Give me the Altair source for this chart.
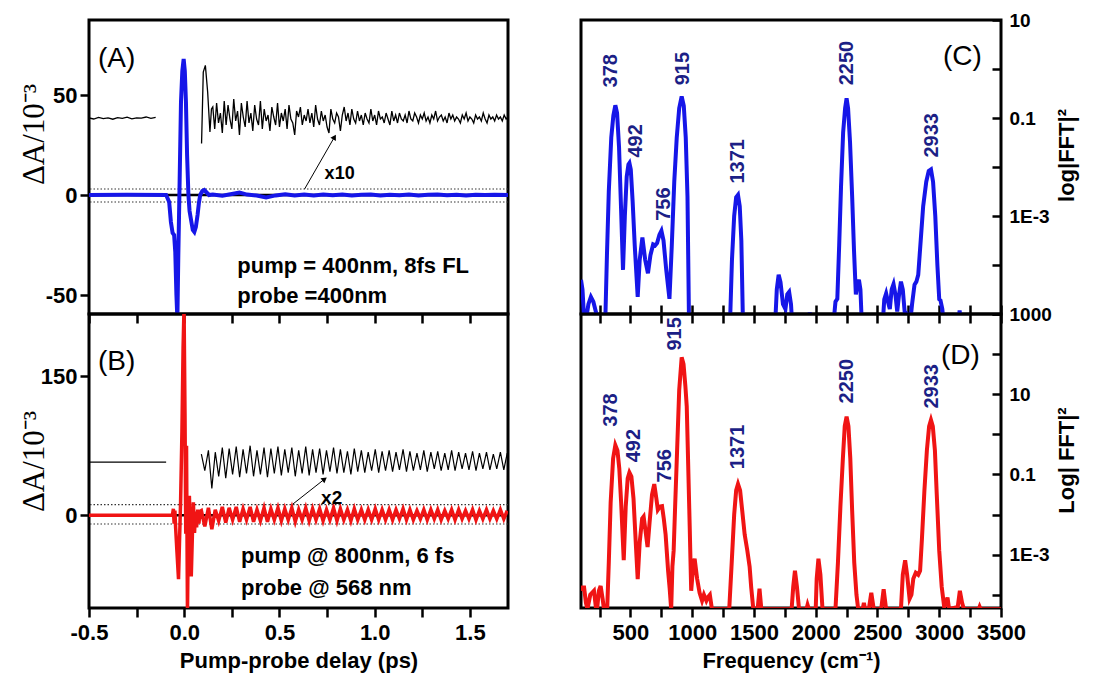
import altair as alt
import pandas as pd

# ---------------- data ----------------
# Panel A: pump 400 nm / probe 400 nm, delay (ps) vs dA (1e-3)
a_blue_t = [-0.5, -0.3, -0.095, -0.079, -0.070, -0.061, -0.053, -0.047, -0.041, -0.036,
            -0.031, -0.026, -0.017, -0.010, -0.003, 0.003, 0.009, 0.015, 0.022, 0.028,
            0.035, 0.045, 0.053, 0.061, 0.070, 0.077, 0.084, 0.095, 0.105, 0.115,
            0.13, 0.15, 0.2, 0.25, 0.29, 0.33, 0.38, 0.43, 0.48, 0.53,
            0.58, 0.63, 0.68, 0.73, 0.78, 0.83, 0.88, 0.93, 0.98, 1.03,
            1.08, 1.13, 1.18, 1.23, 1.28, 1.33, 1.38, 1.43, 1.48, 1.53,
            1.58, 1.63, 1.7]
a_blue_v = [0, 0.1, 0, -3.5, -13.5, -19, -20, -28.5, -50, -62,
            -30, -3.5, 46.5, 62, 68, 62, 46.5, 20, 0, -8,
            -12, -17.5, -18.5, -16, -10, -4, 0, 2, 2.5, 1.5,
            0, 0.3, -0.4, 0.5, 1.2, 0.2, -0.3, -1.2, -0.2, 0.4,
            -0.3, 0.2, -0.2, 0.3, -0.1, 0.2, -0.3, 0.1, 0.3, -0.2,
            0.1, -0.1, 0.2, -0.2, 0.1, 0.2, -0.1, 0.1, -0.2, 0.1,
            0.0, 0.1, 0.0]

a_x10_pre_t = [-0.5, -0.475, -0.45, -0.425, -0.4, -0.375, -0.35, -0.325, -0.3, -0.275,
               -0.25, -0.225, -0.2, -0.175, -0.15]
a_x10_pre_v = [38.5, 38.0, 38.8, 38.2, 38.6, 37.9, 38.7, 38.3, 38.9, 38.1,
               38.6, 38.4, 39.0, 38.3, 38.8]

a_x10_t = [0.091, 0.100, 0.111, 0.123, 0.135, 0.143,
           0.15, 0.16, 0.17, 0.18, 0.19, 0.20, 0.21, 0.22, 0.23, 0.24,
           0.25, 0.26, 0.27, 0.28, 0.29, 0.30, 0.31, 0.32, 0.33, 0.34,
           0.35, 0.36, 0.37, 0.38, 0.39, 0.40, 0.41, 0.42, 0.43, 0.44,
           0.45, 0.46, 0.47, 0.48, 0.49, 0.50, 0.51, 0.52, 0.53, 0.54,
           0.55, 0.56, 0.57, 0.58, 0.59, 0.60, 0.61, 0.62, 0.63, 0.64,
           0.65, 0.66, 0.67, 0.68, 0.69, 0.70, 0.71, 0.72, 0.73, 0.74,
           0.75, 0.76, 0.77, 0.78, 0.79, 0.80, 0.81, 0.82, 0.83, 0.84,
           0.85, 0.86, 0.87, 0.88, 0.89, 0.90, 0.91, 0.92, 0.93, 0.94,
           0.95, 0.96, 0.97, 0.98, 0.99, 1.00, 1.01, 1.02, 1.03, 1.04,
           1.05, 1.06, 1.07, 1.08, 1.09, 1.10, 1.11, 1.12, 1.13, 1.14,
           1.15, 1.16, 1.17, 1.18, 1.19, 1.20, 1.21, 1.22, 1.23, 1.24,
           1.25, 1.26, 1.27, 1.28, 1.29, 1.30, 1.31, 1.32, 1.33, 1.34,
           1.35, 1.36, 1.37, 1.38, 1.39, 1.40, 1.41, 1.42, 1.43, 1.44,
           1.45, 1.46, 1.47, 1.48, 1.49, 1.50, 1.51, 1.52, 1.53, 1.54,
           1.55, 1.56, 1.57, 1.58, 1.59, 1.60, 1.61, 1.62, 1.63, 1.64,
           1.65, 1.66, 1.67, 1.68, 1.69, 1.70]
a_x10_v = [25.7, 61.5, 64.8, 51.5, 31.5, 43,
           44, 33, 46, 36, 41, 31, 47, 35, 45, 38,
           33, 48, 37, 42, 30, 46, 39, 34, 47, 36,
           41, 32, 45, 38, 35, 47, 33, 43, 37, 40,
           32, 44, 39, 35, 46, 34, 41, 37, 43, 33,
           45, 38, 36, 30, 42, 39, 44, 35, 40, 37,
           43, 36, 41, 34, 45, 38, 35, 42, 37, 40,
           34, 31, 43, 38, 36, 41, 39, 32, 40, 44,
           37, 41, 35, 43, 38, 36, 42, 37, 40, 35,
           41, 38, 36, 43, 37, 40, 35, 42, 38, 39,
           36, 41, 38, 35, 42, 37, 40, 36, 41, 38,
           37, 40, 36, 42, 38, 37, 41, 39, 36, 40,
           38, 41, 37, 39, 36, 40, 38, 42, 37, 39,
           40, 37, 39, 36, 41, 38, 40, 37, 39, 38,
           36, 40, 38, 41, 37, 39, 38, 36, 40, 38,
           39, 37, 41, 38, 36, 40, 38, 39, 37, 40,
           38, 39, 37, 40, 38, 39]

a_dotted = [3.0, -3.5]
a_arrow_t = [0.632, 0.789]
a_arrow_v = [3.0, 29.0]

# Panel B: pump 800 nm / probe 568 nm
b_red_pre_t = [-0.5, -0.062, -0.057, -0.053, -0.049, -0.045, -0.038, -0.030, -0.025, -0.019,
               -0.012, -0.006, -0.001, 0.004, 0.008, 0.012, 0.017, 0.022, 0.027, 0.032,
               0.037, 0.043, 0.048, 0.054, 0.059, 0.065, 0.071, 0.077, 0.083]
b_red_pre_v = [0, 0, 7, -9, 5, -14, -40, -69, -30, 15,
               90, 180, 225, 110, -20, 75, -105, -10, 21, -15,
               -66, -20, 14, -19, 4, -13, 6, -9, 4]

b_osc_t = [0.090, 0.108, 0.127, 0.145, 0.163, 0.181, 0.200, 0.218, 0.236, 0.254,
           0.273, 0.291, 0.309, 0.327, 0.346, 0.364, 0.382, 0.400, 0.419, 0.437,
           0.455, 0.473, 0.492, 0.510, 0.528, 0.546, 0.565, 0.583, 0.601, 0.619,
           0.638, 0.656, 0.674, 0.692, 0.711, 0.729, 0.747, 0.765, 0.784, 0.802,
           0.820, 0.838, 0.857, 0.875, 0.893, 0.911, 0.930, 0.948, 0.966, 0.984,
           1.003, 1.021, 1.039, 1.057, 1.076, 1.094, 1.112, 1.130, 1.149, 1.167,
           1.185, 1.203, 1.222, 1.240, 1.258, 1.276, 1.295, 1.313, 1.331, 1.349,
           1.368, 1.386, 1.404, 1.422, 1.441, 1.459, 1.477, 1.495, 1.514, 1.532,
           1.550, 1.568, 1.587, 1.605, 1.623, 1.641, 1.660, 1.678, 1.696]
b_red_tail_v = [5, -12, 8, -15, 6, -6, 9, -8, 8, -5,
                9, -7, 7, -5, 9, -7, 6, -6, 8, -7,
                7, -5, 8, -6, 7, -5, 8, -7, 6, -5,
                8, -6, 7, -5, 7, -6, 6, -5, 8, -6,
                7, -5, 6, -6, 7, -5, 6, -5, 6, -5,
                7, -5, 6, -5, 6, -5, 6, -4, 7, -5,
                6, -5, 5, -4, 6, -5, 6, -4, 6, -5,
                5, -4, 6, -5, 6, -4, 5, -4, 6, -5,
                5, -4, 6, -4, 5, -4, 6, -4, 5]
b_x2_v = [66, 48, 70, 29, 68, 42, 73, 40, 72, 44,
          74, 41, 71, 45, 75, 42, 70, 44, 73, 41,
          72, 45, 74, 43, 71, 46, 73, 42, 70, 45,
          74, 43, 71, 46, 72, 44, 70, 47, 73, 45,
          71, 46, 69, 44, 72, 47, 70, 46, 68, 48,
          71, 46, 69, 48, 70, 47, 68, 49, 71, 47,
          69, 48, 67, 49, 70, 47, 68, 50, 69, 48,
          67, 49, 70, 48, 68, 50, 67, 49, 69, 48,
          67, 50, 68, 49, 66, 50, 68, 49, 67]
b_x2_pre_t = [-0.5, -0.095]
b_x2_pre_v = [57.3, 57.3]
b_dotted = [11.5, -9.5]
b_arrow_t = [0.57, 0.737]
b_arrow_v = [12.0, 39.0]

# Panel C / D: FFT spectra, frequency (cm-1) vs log10(|FFT|^2)
c_freq = [100, 112, 130, 160, 180, 200, 225, 250, 295, 310,
          325, 345, 362, 378, 392, 408, 425, 440, 455, 470,
          484, 492, 503, 518, 535, 559, 575, 597, 620, 642,
          662, 684, 700, 716, 735, 751, 768, 790, 816, 835,
          855, 875, 895, 915, 932, 948, 962, 975, 1305, 1322,
          1340, 1356, 1371, 1385, 1398, 1412, 1670, 1685, 1700, 1715,
          1735, 1755, 1770, 1785, 1800, 1812, 1935, 1952, 1968, 2140,
          2160, 2175, 2190, 2205, 2222, 2238, 2250, 2262, 2278, 2295,
          2310, 2325, 2338, 2350, 2362, 2375, 2540, 2555, 2570, 2585,
          2600, 2615, 2630, 2645, 2660, 2675, 2690, 2705, 2720, 2740,
          2760, 2780, 2800, 2815, 2830, 2850, 2870, 2895, 2915, 2933,
          2950, 2968, 2985, 3000, 3010, 3025, 3040, 3150, 3165, 3180,
          3500]
c_log10 = [-4.3, -4.5, -5.3, -4.8, -4.65, -4.75, -5.0, -5.3, -5.3, -3.8,
           -2.5, -1.4, -0.95, -0.74, -0.9, -1.6, -2.9, -4.1, -3.0, -2.2,
           -1.95, -1.92, -2.05, -2.7, -3.6, -4.65, -3.9, -3.44, -3.9, -4.17,
           -3.8, -3.58, -3.6, -3.55, -3.38, -3.3, -3.5, -4.1, -4.69, -3.6,
           -2.3, -1.4, -0.8, -0.56, -0.75, -1.4, -2.6, -5.3, -5.3, -3.9,
           -3.0, -2.62, -2.57, -2.8, -3.5, -5.3, -5.3, -4.5, -4.2, -4.35,
           -4.8, -4.9, -4.6, -4.55, -4.8, -5.3, -5.3, -4.97, -5.3, -5.3,
           -4.75, -4.69, -3.6, -2.4, -1.3, -0.8, -0.6, -0.8, -1.5, -2.6,
           -3.7, -4.6, -4.4, -4.3, -4.5, -5.3, -5.3, -4.7, -4.58, -4.75,
           -4.9, -4.5, -4.39, -4.6, -4.95, -4.6, -4.34, -4.5, -4.95, -5.0,
           -5.3, -4.8, -4.4, -4.34, -4.2, -3.5, -2.8, -2.3, -2.08, -2.05,
           -2.3, -3.0, -4.0, -4.7, -4.72, -4.9, -5.3, -5.3, -4.93, -5.3,
           -5.3]

d_freq = [100, 112, 125, 140, 152, 175, 205, 220, 232, 245,
          259, 275, 286, 312, 325, 340, 360, 378, 395, 410,
          425, 446, 462, 478, 492, 508, 525, 545, 559, 575,
          595, 607, 622, 639, 655, 675, 693, 710, 722, 740,
          756, 770, 785, 805, 818, 830, 840, 850, 862, 878,
          895, 915, 930, 945, 956, 968, 980, 992, 1005, 1020,
          1040, 1060, 1080, 1095, 1115, 1130, 1143, 1160, 1300, 1320,
          1340, 1356, 1371, 1388, 1405, 1425, 1446, 1465, 1478, 1495,
          1530, 1545, 1560, 1805, 1818, 1832, 1848, 1865, 1925, 1934,
          1945, 2000, 2008, 2022, 2038, 2055, 2160, 2180, 2200, 2220,
          2235, 2250, 2265, 2280, 2295, 2312, 2330, 2344, 2380, 2390,
          2400, 2430, 2450, 2470, 2530, 2550, 2570, 2690, 2705, 2724,
          2740, 2760, 2775, 2790, 2810, 2830, 2845, 2860, 2880, 2900,
          2918, 2933, 2948, 2965, 2980, 3000, 3020, 3040, 3055, 3067,
          3080, 3150, 3167, 3185, 3200, 3320, 3327, 3335, 3500]
d_log10 = [-3.9, -3.82, -3.82, -4.2, -4.36, -4.0, -3.9, -4.3, -4.3, -3.9,
           -3.78, -4.1, -4.36, -4.36, -3.2, -1.7, -0.6, -0.27, -0.4, -0.85,
           -1.7, -3.14, -1.8, -1.1, -0.95, -1.05, -1.6, -2.8, -3.61, -2.7,
           -2.1, -2.05, -2.4, -2.81, -2.2, -1.5, -1.24, -1.6, -1.88, -1.8,
           -1.79, -2.1, -2.5, -3.4, -3.85, -4.36, -3.3, -2.9, -1.8, -0.4,
           1.1, 1.92, 1.75, 1.2, 0.7, -0.8, -2.3, -3.9, -3.4, -3.1,
           -3.6, -3.95, -4.15, -4.0, -4.15, -4.05, -4.0, -4.36, -4.36, -3.2,
           -2.0, -1.4, -1.24, -1.4, -1.9, -2.5, -2.89, -3.3, -3.82, -4.36,
           -4.36, -3.85, -4.36, -4.36, -3.8, -3.4, -3.8, -4.36, -4.36, -4.25,
           -4.36, -4.36, -3.6, -3.1, -3.5, -4.36, -4.36, -3.2, -1.8, -0.6,
           0.2, 0.44, 0.2, -0.6, -1.9, -3.2, -4.0, -4.36, -4.36, -4.2,
           -4.36, -4.36, -3.95, -4.36, -4.36, -3.86, -4.36, -4.36, -3.5, -3.14,
           -3.5, -4.1, -4.0, -3.6, -3.45, -3.5, -3.4, -2.6, -1.4, -0.4,
           0.2, 0.36, 0.2, -0.4, -1.5, -2.9, -3.8, -4.3, -4.2, -4.07,
           -4.36, -4.3, -3.9, -4.2, -4.36, -4.36, -4.3, -4.36, -4.36]

peak_labels = ["378", "492", "756", "915", "1371", "2250", "2933"]
c_label_freq = [342, 543, 768, 928, 1371, 2256, 2938]
c_label_pow = [0.42, 0.0156, 0.0008, 0.466, 0.0046, 0.466, 0.0156]
d_label_freq = [342, 527, 784, 864, 1371, 2256, 2938]
d_label_pow = [1.55, 0.2, 0.063, 123, 0.135, 5.9, 4.4]

time_ticks = [-0.5, -0.25, 0, 0.25, 0.5, 0.75, 1.0, 1.25, 1.5]
freq_ticks = [250, 500, 750, 1000, 1250, 1500, 1750, 2000, 2250, 2500, 2750, 3000, 3250, 3500]
c_pow_ticks = [1e-5, 1e-4, 1e-3, 1e-2, 0.1, 1, 10]
d_pow_ticks = [1e-4, 1e-3, 1e-2, 0.1, 1, 10, 100, 1000]

for p, q in [(a_blue_t, a_blue_v), (a_x10_pre_t, a_x10_pre_v), (a_x10_t, a_x10_v),
             (b_red_pre_t, b_red_pre_v), (b_osc_t, b_red_tail_v), (b_osc_t, b_x2_v),
             (c_freq, c_log10), (d_freq, d_log10)]:
    assert len(p) == len(q), (len(p), len(q))

# ---------------- styles ----------------
BLUE = "#1616e8"
RED = "#f01414"
NAVY = "#1c1f86"
SANS = "Liberation Sans"
SERIF = "Liberation Serif"
W_L, W_R, H = 419, 420, 294

xT = alt.Scale(domain=[-0.5, 1.7], nice=False, zero=False)
yA = alt.Scale(domain=[-59.5, 87.5], nice=False, zero=False)
yB = alt.Scale(domain=[-100, 217], nice=False, zero=False)
xF = alt.Scale(domain=[100, 3500], nice=False, zero=False)
yC = alt.Scale(type="log", domain=[1e-5, 10], nice=False)
yD = alt.Scale(type="log", domain=[4.68e-5, 1000], nice=False)

num_fmt = "datum.value < 0 ? '-' + format(-datum.value, '{f}') : format(datum.value, '{f}')"

ax_t_top = alt.Axis(values=time_ticks, labels=False, title=None, tickSize=9)
ax_t_bot = alt.Axis(values=time_ticks, title="Pump-probe delay (ps)", tickSize=9, labelPadding=5,
                    titlePadding=7, labelFontSize=22, titleFontSize=22,
                    labelExpr="abs(datum.value*2 - round(datum.value*2)) < 0.001 ? ("
                              + num_fmt.format(f=".1f") + ") : ''")
ax_yA = alt.Axis(values=[-50, 0, 50], title="ΔA/10⁻³", labelExpr=num_fmt.format(f="d"),
                 labelFontSize=22,
                 titleFont=SERIF, titleFontWeight="normal", titleFontSize=31, titleAngle=270,
                 titleX=-46, titleY=114, titleBaseline="alphabetic", titleAlign="center",
                 tickSize=9, labelPadding=3)
ax_yB = alt.Axis(values=[0, 150], title="ΔA/10⁻³", labelExpr=num_fmt.format(f="d"),
                 labelFontSize=22,
                 titleFont=SERIF, titleFontWeight="normal", titleFontSize=31, titleAngle=270,
                 titleX=-46, titleY=147, titleBaseline="alphabetic", titleAlign="center",
                 tickSize=9, labelPadding=3)
ax_f_top = alt.Axis(values=freq_ticks, labels=False, title=None, tickSize=18, offset=-9)
ax_f_bot = alt.Axis(values=freq_ticks, title="Frequency (cm⁻¹)", tickSize=9, labelPadding=5,
                    titlePadding=7, labelFontSize=22, titleFontSize=22,
                    labelExpr="datum.value % 500 == 0 ? format(datum.value, 'd') : ''")
ax_yC = alt.Axis(orient="right", values=c_pow_ticks, title="log|FFT|²", offset=-9, tickSize=9,
                 labelPadding=8, labelOverlap=False,
                 labelExpr="datum.value == 10 ? '10' : datum.value == 0.1 ? '0.1' : datum.value == 0.001 ? '1E-3' : ''",
                 titleAngle=270, titleX=81, titleY=135, titleBaseline="alphabetic", titleAlign="center",
                 titleFontSize=22)
ax_yD = alt.Axis(orient="right", values=d_pow_ticks, title="Log| FFT|²", offset=-9, tickSize=9,
                 labelPadding=8, labelOverlap=False,
                 labelExpr="datum.value == 1000 ? '1000' : datum.value == 10 ? '10' : datum.value == 0.1 ? '0.1' : datum.value == 0.001 ? '1E-3' : ''",
                 titleAngle=270, titleX=81, titleY=146, titleBaseline="alphabetic", titleAlign="center",
                 titleFontSize=22)


def df(**cols):
    return pd.DataFrame(cols)


# ---------- Panel A ----------
XA = lambda: alt.X("t:Q", scale=xT, axis=ax_t_top)
YA = lambda: alt.Y("v:Q", scale=yA, axis=ax_yA)

A_layers = [
    alt.Chart(df(v=[0.0])).mark_rule(color="black", strokeWidth=2.5).encode(y=YA()),
    alt.Chart(df(v=a_dotted)).mark_rule(color="#333333", strokeWidth=1.1, strokeDash=[1.5, 2]).encode(y=YA()),
    alt.Chart(df(t=a_x10_pre_t, v=a_x10_pre_v)).mark_line(color="black", strokeWidth=1.3).encode(x=XA(), y=YA()),
    alt.Chart(df(t=a_x10_t, v=a_x10_v)).mark_line(color="black", strokeWidth=1.3).encode(x=XA(), y=YA()),
    alt.Chart(df(t=a_blue_t, v=a_blue_v)).mark_line(color=BLUE, strokeWidth=4, clip=True).encode(x=XA(), y=YA()),
    alt.Chart(df(t=a_arrow_t, v=a_arrow_v)).mark_line(color="black", strokeWidth=1).encode(x=XA(), y=YA()),
    alt.Chart(df(t=a_arrow_t[1:], v=a_arrow_v[1:])).mark_point(shape="triangle-up", filled=True, size=40,
                                                              angle=30, color="black", opacity=1).encode(x=XA(), y=YA()),
    alt.Chart(df(t=[0.816], v=[10.7], s=["x10"])).mark_text(font=SANS, fontWeight="bold", fontSize=18,
                                                           align="center", baseline="middle").encode(x=XA(), y=YA(), text="s:N"),
    alt.Chart(df(t=[0.279, 0.279], v=[-35.5, -50.5], s=["pump = 400nm, 8fs FL", "probe =400nm"])).mark_text(
        font=SANS, fontWeight="bold", fontSize=22, align="left", baseline="middle").encode(x=XA(), y=YA(), text="s:N"),
    alt.Chart(df(t=[-0.355], v=[68], s=["(A)"])).mark_text(font=SANS, fontSize=28, align="center",
                                                          baseline="middle").encode(x=XA(), y=YA(), text="s:N"),
]
panelA = alt.layer(*A_layers).properties(width=W_L, height=H)

# ---------- Panel B ----------
XB = lambda: alt.X("t:Q", scale=xT, axis=ax_t_bot)
YB = lambda: alt.Y("v:Q", scale=yB, axis=ax_yB)

B_layers = [
    alt.Chart(df(v=[0.0])).mark_rule(color="black", strokeWidth=2.5).encode(y=YB()),
    alt.Chart(df(v=b_dotted)).mark_rule(color="#333333", strokeWidth=1.1, strokeDash=[1.5, 2]).encode(y=YB()),
    alt.Chart(df(t=b_x2_pre_t, v=b_x2_pre_v)).mark_line(color="black", strokeWidth=1.2).encode(x=XB(), y=YB()),
    alt.Chart(df(t=b_osc_t, v=b_x2_v)).mark_line(color="black", strokeWidth=1.2).encode(x=XB(), y=YB()),
    alt.Chart(df(t=b_red_pre_t + b_osc_t, v=b_red_pre_v + b_red_tail_v)).mark_line(
        color=RED, strokeWidth=3.5, clip=True).encode(x=XB(), y=YB()),
    alt.Chart(df(t=b_arrow_t, v=b_arrow_v)).mark_line(color="black", strokeWidth=1).encode(x=XB(), y=YB()),
    alt.Chart(df(t=b_arrow_t[1:], v=b_arrow_v[1:])).mark_point(shape="triangle-up", filled=True, size=40,
                                                              angle=52, color="black", opacity=1).encode(x=XB(), y=YB()),
    alt.Chart(df(t=[0.774], v=[18.4], s=["x2"])).mark_text(font=SANS, fontWeight="bold", fontSize=19,
                                                         align="center", baseline="middle").encode(x=XB(), y=YB(), text="s:N"),
    alt.Chart(df(t=[0.298, 0.298], v=[-43.5, -78], s=["pump @ 800nm, 6 fs", "probe @ 568 nm"])).mark_text(
        font=SANS, fontWeight="bold", fontSize=22, align="left", baseline="middle").encode(x=XB(), y=YB(), text="s:N"),
    alt.Chart(df(t=[-0.355], v=[165], s=["(B)"])).mark_text(font=SANS, fontSize=28, align="center",
                                                           baseline="middle").encode(x=XB(), y=YB(), text="s:N"),
]
panelB = alt.layer(*B_layers).properties(width=W_L, height=H)

# ---------- Panel C ----------
XC = lambda: alt.X("f:Q", scale=xF, axis=ax_f_top)
YC = lambda: alt.Y("p:Q", scale=yC, axis=ax_yC)

C_layers = [
    alt.Chart(df(f=c_freq, p=[10 ** v for v in c_log10])).mark_line(color=BLUE, strokeWidth=4, clip=True).encode(x=XC(), y=YC()),
    alt.Chart(df(f=c_label_freq, p=c_label_pow, s=peak_labels)).mark_text(
        font=SANS, fontWeight="bold", fontSize=20, angle=270, align="left", baseline="middle", color=NAVY
    ).encode(x=XC(), y=YC(), text="s:N"),
    alt.Chart(df(f=[3187], p=[1.74], s=["(C)"])).mark_text(font=SANS, fontSize=28, align="center",
                                                          baseline="middle").encode(x=XC(), y=YC(), text="s:N"),
]
panelC = alt.layer(*C_layers).properties(width=W_R, height=H)

# ---------- Panel D ----------
XD = lambda: alt.X("f:Q", scale=xF, axis=ax_f_bot)
YD = lambda: alt.Y("p:Q", scale=yD, axis=ax_yD)

D_layers = [
    alt.Chart(df(f=d_freq, p=[10 ** v for v in d_log10])).mark_line(color=RED, strokeWidth=4, clip=True).encode(x=XD(), y=YD()),
    alt.Chart(df(f=d_label_freq, p=d_label_pow, s=peak_labels)).mark_text(
        font=SANS, fontWeight="bold", fontSize=20, angle=270, align="left", baseline="middle", color=NAVY
    ).encode(x=XD(), y=YD(), text="s:N"),
    alt.Chart(df(f=[3172], p=[91], s=["(D)"])).mark_text(font=SANS, fontSize=28, align="center",
                                                        baseline="middle").encode(x=XD(), y=YD(), text="s:N"),
]
panelD = alt.layer(*D_layers).properties(width=W_R, height=H)

left = alt.vconcat(panelA, panelB, spacing=0, bounds="flush")
right = alt.vconcat(panelC, panelD, spacing=0, bounds="flush")

chart = alt.hconcat(left, right, spacing=66).properties(
    padding={"left": 8, "top": 1, "right": 5, "bottom": 1}
).configure_view(
    stroke="black", strokeWidth=3
).configure_axis(
    labelFont=SANS, labelFontSize=19, labelFontWeight="bold", labelColor="black",
    titleFont=SANS, titleFontSize=20, titleFontWeight="bold", titleColor="black",
    tickColor="black", tickWidth=2.5, domain=False, grid=False, labelFlush=False
)

chart.save("out.html", embed_options={"renderer": "svg", "actions": False})
